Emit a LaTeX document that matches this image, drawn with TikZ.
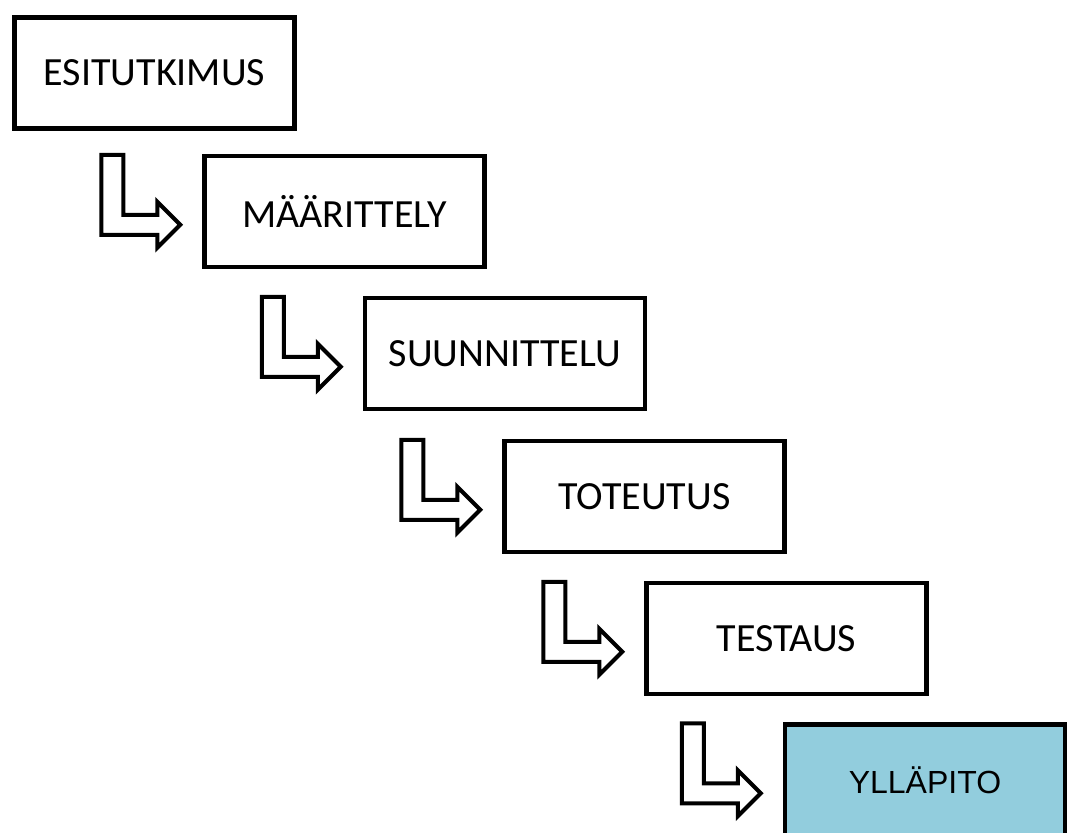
\documentclass[tikz,border=0pt]{standalone}
\usepackage{fontspec}
\setmainfont{Carlito}
\newfontfamily\arialfont{Liberation Sans}
\usetikzlibrary{calc}
\definecolor{myaqua}{RGB}{146,205,221}
\tikzset{
  phase/.style={draw,line width=4.5pt,minimum width=280pt,minimum height=111pt,
    inner sep=0pt,font=\fontsize{40}{48}\selectfont},
  lastphase/.style={phase,fill=myaqua,font=\arialfont\fontsize{32}{38}\selectfont},
  steparrow/.style={draw,line width=4pt,line join=miter}
}
% L-shaped block arrow ending left of box #1
\newcommand{\steparrow}[1]{%
  \draw[steparrow]
    ($(#1.north west)+(-101,1)$) -- ++(22,0) -- ++(0,60) -- ++(34,0)
    -- ++(0,-13) -- ++(23,23) -- ++(-23,23) -- ++(0,-13)
    -- ++(-56,0) -- cycle;}

\begin{document}
\begin{tikzpicture}[x=1pt,y=-1pt]

  \useasboundingbox (0,0) rectangle (1069,833);
  \clip (0,0) rectangle (1069,833);

  % boxes
  \node[phase] (esi)   at (154.5,73)    {ESITUTKIMUS};
  \node[phase] (maar)  at (344.5,211.5) {MÄÄRITTELY};
  \node[phase] (suun)  at (505,353.5)   {SUUNNITTELU};
  \node[phase] (tote)  at (644.5,496.5) {TOTEUTUS};
  \node[phase] (test)  at (786.5,638.5) {TESTAUS};
  \node[lastphase] (yllap) at (925,780) {YLLÄPITO};

  % arrows
  \steparrow{maar}
  \steparrow{suun}
  \steparrow{tote}
  \steparrow{test}
  \steparrow{yllap}

\end{tikzpicture}
\end{document}
